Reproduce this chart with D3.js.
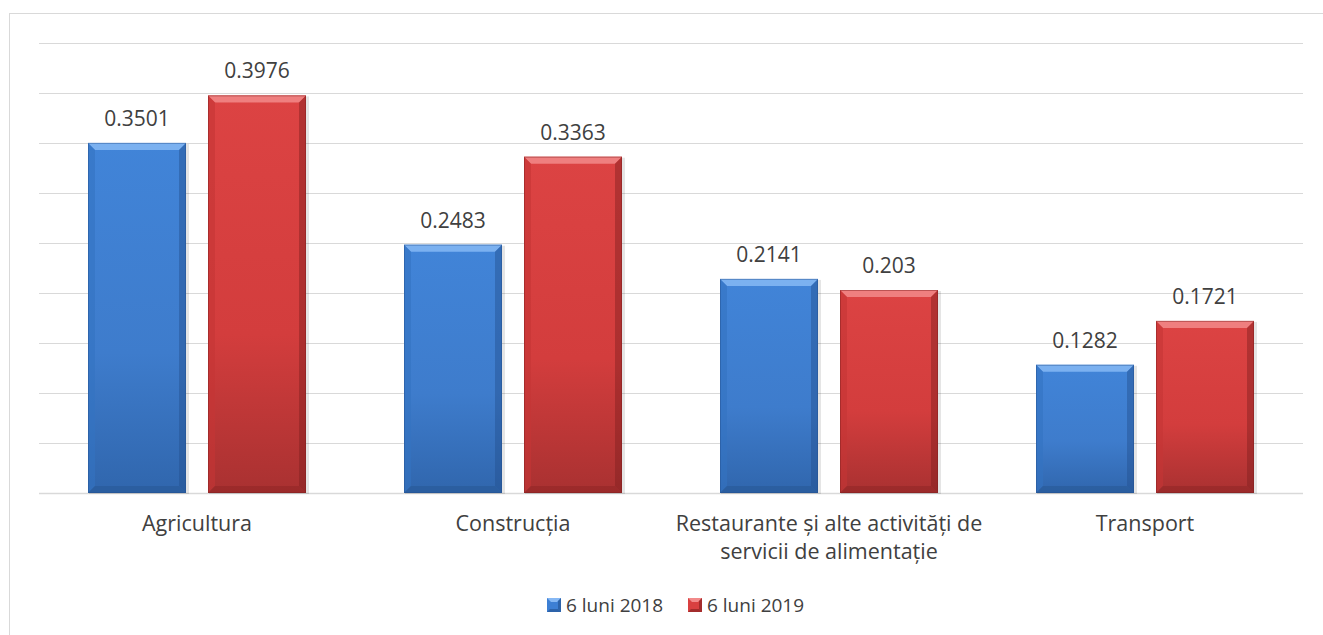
<!DOCTYPE html>
<html>
<head>
<meta charset="utf-8">
<script src="https://cdn.jsdelivr.net/npm/d3@7"></script>
<style>
html,body{margin:0;padding:0;background:#fff;}
svg{display:block;}
text{font-family:"Open Sans","Noto Sans",sans-serif;fill:#404040;}
</style>
</head>
<body>
<svg id="chart" width="1323" height="635"></svg>
<script>
const categories = [["Agricultura"], ["Construcția"], ["Restaurante și alte activități de", "servicii de alimentație"], ["Transport"]];
const seriesNames = ["6 luni 2018", "6 luni 2019"];
const values2018 = [0.3501, 0.2483, 0.2141, 0.1282];
const values2019 = [0.3976, 0.3363, 0.203, 0.1721];
const labels2018 = ["0.3501", "0.2483", "0.2141", "0.1282"];
const labels2019 = ["0.3976", "0.3363", "0.203", "0.1721"];
const gridTicks = [0, 0.05, 0.1, 0.15, 0.2, 0.25, 0.3, 0.35, 0.4, 0.45];

(function(){
const svg = d3.select("#chart");
const W = 1323, H = 635;
const pLeft = 39, pRight = 1303, pTop = 43, pBottom = 493;

const colors = [
  {base:"#3d7fd4", top:"#86b8f4", dark:"#23508e", side:"#3473c2", bottom:"#2a5b9a", g0:"#4184d8", g1:"#3e7ccc", g2:"#3066ad"},
  {base:"#d94040", top:"#f28a8a", dark:"#7e1f1f", side:"#c43636", bottom:"#952828", g0:"#dc4343", g1:"#d33d3d", g2:"#a93131"}
];

svg.append("rect").attr("x", 9.5).attr("y", 13.5).attr("width", W + 20).attr("height", H + 20)
  .attr("fill", "none").attr("stroke", "#d9d9d9").attr("stroke-width", 1);

const x0 = d3.scaleBand().domain(d3.range(categories.length)).range([pLeft, pRight]).paddingInner(0).paddingOuter(0);
const y = d3.scaleLinear().domain([0, 0.45]).range([pBottom, pTop]);

svg.append("g").selectAll("line").data(gridTicks).join("line")
  .attr("x1", pLeft).attr("x2", pRight)
  .attr("y1", d => Math.round(y(d)) + 0.5).attr("y2", d => Math.round(y(d)) + 0.5)
  .attr("stroke", "#d9d9d9").attr("stroke-width", d => d === 0 ? 1.5 : 1);

const defs = svg.append("defs");
colors.forEach((c, i) => {
  const g = defs.append("linearGradient").attr("id", "grad" + i).attr("x1", 0).attr("y1", 0).attr("x2", 0).attr("y2", 1);
  g.append("stop").attr("offset", "0%").attr("stop-color", c.g0);
  g.append("stop").attr("offset", "60%").attr("stop-color", c.g1);
  g.append("stop").attr("offset", "100%").attr("stop-color", c.g2);
});

const barW = 98, gap = 22;
const groupW = barW * 2 + gap;
const bev = 7;

function drawBar(g, xPos, val, ci) {
  const c = colors[ci];
  const x = xPos, yt = y(val), yb = y(0), w = barW;
  const bg = g.append("g");
  bg.append("rect").attr("x", x + 1).attr("y", yt + 1).attr("width", w + 2).attr("height", yb - yt).attr("fill", "rgba(0,0,0,0.10)");
  bg.append("rect").attr("x", x).attr("y", yt).attr("width", w).attr("height", yb - yt).attr("fill", `url(#grad${ci})`);
  bg.append("polygon").attr("points", `${x},${yt} ${x + w},${yt} ${x + w - bev},${yt + bev} ${x + bev},${yt + bev}`).attr("fill", c.top).attr("opacity", 0.85);
  bg.append("polygon").attr("points", `${x},${yt} ${x + bev},${yt + bev} ${x + bev},${yb - bev} ${x},${yb}`).attr("fill", c.side).attr("opacity", 0.6);
  bg.append("polygon").attr("points", `${x + w},${yt} ${x + w - bev},${yt + bev} ${x + w - bev},${yb - bev} ${x + w},${yb}`).attr("fill", c.dark).attr("opacity", 0.45);
  bg.append("polygon").attr("points", `${x},${yb} ${x + bev},${yb - bev} ${x + w - bev},${yb - bev} ${x + w},${yb}`).attr("fill", c.bottom).attr("opacity", 0.7);
  bg.append("rect").attr("x", x + 0.5).attr("y", yt + 0.5).attr("width", w - 1).attr("height", yb - yt - 1).attr("fill", "none").attr("stroke", c.dark).attr("stroke-opacity", 0.45);
}

const groups = svg.append("g");
categories.forEach((cat, i) => {
  const gx = x0(i) + (x0.bandwidth() - groupW) / 2;
  const vals = [values2018[i], values2019[i]];
  const labs = [labels2018[i], labels2019[i]];
  vals.forEach((v, s) => {
    const bx = gx + s * (barW + gap);
    drawBar(groups, bx, v, s);
    groups.append("text").attr("x", bx + barW / 2).attr("y", y(v) - 17)
      .attr("text-anchor", "middle").attr("font-size", 21).text(labs[s]);
  });
  const t = groups.append("text").attr("text-anchor", "middle").attr("font-size", 21.5)
    .attr("x", x0(i) + x0.bandwidth() / 2).attr("y", 531);
  cat.forEach((line, li) => {
    t.append("tspan").attr("x", x0(i) + x0.bandwidth() / 2).attr("dy", li === 0 ? 0 : 28).text(line);
  });
});

const legendX = [547, 688];
const leg = svg.append("g");
seriesNames.forEach((n, s) => {
  const c = colors[s];
  const lx = legendX[s], ly = 598, sz = 14;
  leg.append("rect").attr("x", lx).attr("y", ly).attr("width", sz).attr("height", sz).attr("fill", c.base);
  leg.append("polygon").attr("points", `${lx},${ly} ${lx + sz},${ly} ${lx + sz - 4},${ly + 4} ${lx + 4},${ly + 4}`).attr("fill", c.top);
  leg.append("polygon").attr("points", `${lx + sz},${ly} ${lx + sz},${ly + sz} ${lx + sz - 3},${ly + sz - 3} ${lx + sz - 3},${ly + 3}`).attr("fill", c.dark).attr("opacity", 0.6);
  leg.append("polygon").attr("points", `${lx},${ly + sz} ${lx + sz},${ly + sz} ${lx + sz - 3},${ly + sz - 3} ${lx + 3},${ly + sz - 3}`).attr("fill", c.dark).attr("opacity", 0.6);
  leg.append("text").attr("x", lx + 19).attr("y", 612).attr("font-size", 19).text(n);
});
})();
</script>
</body>
</html>
